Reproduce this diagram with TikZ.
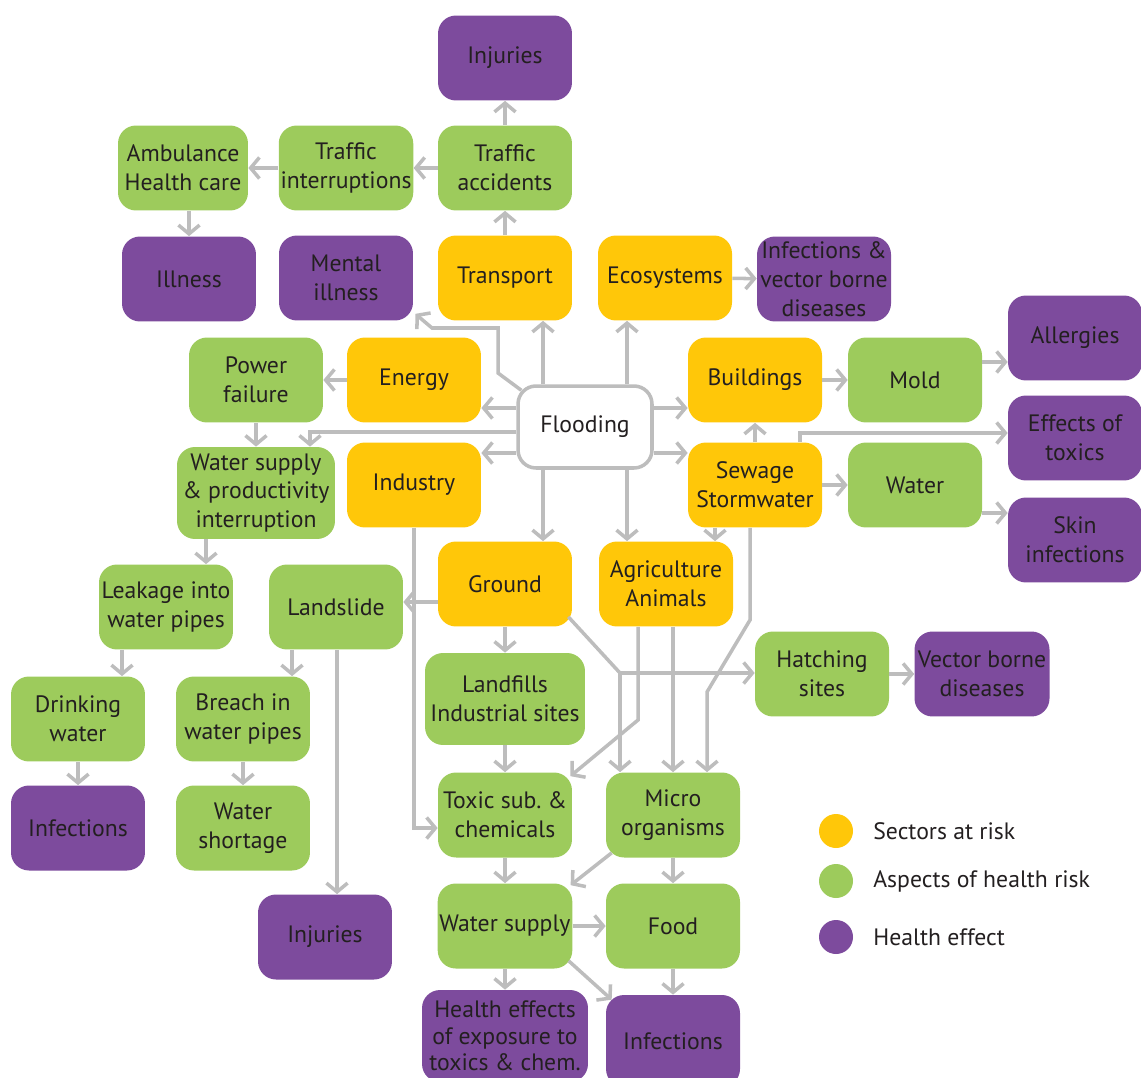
\documentclass[tikz,border=0pt]{standalone}
\usepackage{fontspec}
\setmainfont{PT Sans}
\usetikzlibrary{arrows.meta}
\definecolor{sectoryellow}{HTML}{FFC709}
\definecolor{aspectgreen}{HTML}{9DCB5C}
\definecolor{effectpurple}{HTML}{7D4B9D}
\definecolor{linkgray}{HTML}{BDBDBD}
\definecolor{txt}{HTML}{231F20}
\tikzset{x=0.02cm, y=-0.02cm,
box/.style={ % common look of all boxes
rectangle, rounded corners=0.36cm,
minimum width=2.68cm, minimum height=1.7cm,
inner sep=1pt, align=center, text=txt,
font=\fontsize{13.5pt}{16.4pt}\selectfont},
sector/.style={box, fill=sectoryellow},
aspect/.style={box, fill=aspectgreen},
effect/.style={box, fill=effectpurple},
source/.style={box, fill=white, draw=linkgray, line width=2pt,
minimum width=2.68cm, minimum height=1.64cm},
dot/.style={circle, minimum size=0.68cm, inner sep=0pt},
legendtext/.style={anchor=west, text=txt, inner sep=0pt,
font=\fontsize{13.5pt}{16.4pt}\selectfont},
link/.style={ % gray connectors
draw=linkgray, line width=2pt,
-{Straight Barb[length=5pt,width=12pt]}}}

\begin{document}
\begin{tikzpicture}
\useasboundingbox (0,0) rectangle (1141,1077);
\clip (0,0) rectangle (1141,1077);
% top part
\node[effect] (inj1) at (505,58) {Injuries};
\node[aspect, minimum width=2.6cm] (amb) at (183,168) {Ambulance\\Health care};
\node[aspect] (tint) at (346,168) {Traffic\\interruptions};
\node[aspect] (tacc) at (505,168) {Traffic\\accidents};
\node[effect] (ill) at (189,279) {Illness};
\node[effect] (ment) at (346,278) {Mental\\illness};
\node[sector] (trans) at (505,278) {Transport};
\node[sector] (eco) at (665,278) {Ecosystems};
\node[effect] (infv) at (824,279) {Infections \&\\vector borne\\diseases};
% middle part
\node[aspect] (power) at (256,380) {Power\\failure};
\node[sector] (energy) at (414,380) {Energy};
\node[source] (flood) at (585,427) {Flooding};
\node[sector] (build) at (755,380) {Buildings};
\node[aspect] (mold) at (915,380) {Mold};
\node[effect] (allerg) at (1075,338) {Allergies};
\node[effect] (effx) at (1075,438) {Effects of\\toxics};
\node[aspect, minimum width=3.16cm, minimum height=1.84cm] (wsup) at (256,493) {Water supply\\\& productivity\\interruption};
\node[sector] (industry) at (414,485) {Industry};
\node[sector] (sew) at (755,485) {Sewage\\Stormwater};
\node[aspect] (water) at (915,485) {Water};
\node[effect] (skin) at (1075,540) {Skin\\infections};
% lower part
\node[aspect] (leak) at (166,607) {Leakage into\\water pipes};
\node[aspect] (lands) at (336,607) {Landslide};
\node[sector] (ground) at (505,584) {Ground};
\node[sector] (agri) at (666,584) {Agriculture\\Animals};
\node[aspect] (hatch) at (822,674) {Hatching\\sites};
\node[effect, minimum width=2.7cm] (vect) at (982,674) {Vector borne\\diseases};
\node[aspect, minimum width=3.2cm, minimum height=1.84cm] (landf) at (505,699) {Landfills\\Industrial sites};
\node[aspect] (drink) at (78,719) {Drinking\\water};
\node[aspect] (breach) at (243,719) {Breach in\\water pipes};
\node[aspect] (toxic) at (505,815) {Toxic sub.\ \&\\chemicals};
\node[aspect] (micro) at (673,815) {Micro\\organisms};
\node[effect] (inf2) at (78,828) {Infections};
\node[aspect] (short) at (243,828) {Water\\shortage};
\node[effect] (inj2) at (325,937) {Injuries};
\node[aspect] (wsupply) at (505,926) {Water supply};
\node[aspect] (food) at (673,926) {Food};
\node[effect, minimum width=3.32cm, minimum height=1.84cm, font=\fontsize{13.5pt}{15pt}\selectfont] (health) at (505,1036) {Health effects\\of exposure to\\toxics \& chem.};
\node[effect, minimum height=1.84cm] (inf3) at (673,1041) {Infections};
% legend
\node[dot, fill=sectoryellow] (lsec) at (836,831) {};
\node[dot, fill=aspectgreen] (lasp) at (836,881) {};
\node[dot, fill=effectpurple] (leff) at (836,937) {};
\node[legendtext] at (873,831) {Sectors at risk};
\node[legendtext] at (873,881) {Aspects of health risk};
\node[legendtext] at (873,937) {Health effect};
% connectors
\draw[link] (tacc) -- (inj1);
\draw[link] (trans) -- (tacc);
\draw[link] (tacc) -- (tint);
\draw[link] (tint) -- (amb);
\draw[link] (amb.south -| ill) -- (ill);
\draw[link] ([shift={(5,6)}]flood.north west) -- (498,373) -- (498,328) -- (432,328) -- ([shift={(2,-7)}]ment.south east);
\draw[link] (flood.north -| 543,0) -- (trans.south -| 543,0);
\draw[link] (flood.north -| 627,0) -- (eco.south -| 627,0);
\draw[link] (eco) -- (infv);
\draw[link] (flood.west |- 0,408) -- (energy.east |- 0,408);
\draw[link] (flood.west |- 0,432) -- (310,432) -- (wsup.north -| 310,0);
\draw[link] (flood.west |- 0,453) -- (industry.east |- 0,453);
\draw[link] (energy) -- (power);
\draw[link] (power) -- (wsup);
\draw[link] (wsup.south -| 206,0) -- (leak.north -| 206,0);
\draw[link] (flood.east |- 0,408) -- (build.west |- 0,408);
\draw[link] (flood.east |- 0,453) -- (sew.west |- 0,453);
\draw[link] (sew) -- (build);
\draw[link] (build) -- (mold);
\draw[link] (mold.east |- 0,362) -- (allerg.west |- 0,362);
\draw[link] (sew.north -| 800,0) -- (800,433) -- (effx.west |- 0,433);
\draw[link] (sew) -- (water);
\draw[link] (water.east |- 0,513) -- (skin.west |- 0,513);
\draw[link] (sew.south -| 715,0) -- (agri.north -| 715,0);
\draw[link] (sew.south -| 750,0) -- (750,620) -- (707,692) -- (micro.north -| 707,0);
\draw[link] (flood.south -| 543,0) -- (ground.north -| 543,0);
\draw[link] (flood.south -| 627,0) -- (agri.north -| 627,0);
\draw[link] (ground.west |- 0,602) -- (lands.east |- 0,602);
\draw[link] (ground) -- (landf);
\coordinate (fork) at (620,673);
\draw[link] ([shift={(-4,-10)}]ground.south east) -- (fork) -- (hatch.west |- fork);
\draw[link] (fork) -- (micro.north -| fork);
\draw[link] (agri.south -| 638,0) -- (638,720) -- ([shift={(-2,4)}]toxic.north east);
\draw[link] (agri.south -| micro) -- (micro);
\draw[link] (industry) -- (industry |- 0,828) -- (toxic.west |- 0,828);
\draw[link] (landf) -- (toxic);
\draw[link] (lands.south -| 292,0) -- (breach.north -| 292,0);
\draw[link] (lands.south -| 337,0) -- (inj2.north -| 337,0);
\draw[link] (leak.south -| 122,0) -- (drink.north -| 122,0);
\draw[link] (drink) -- (inf2);
\draw[link] (breach) -- (short);
\draw[link] (toxic) -- (wsupply);
\draw[link] ([shift={(6,-5)}]micro.south west) -- ([shift={(-2,2)}]wsupply.north east);
\draw[link] (micro) -- (food);
\draw[link] (wsupply) -- (food);
\draw[link] (wsupply) -- (health);
\draw[link] ([shift={(-4,-8)}]wsupply.south east) -- ([shift={(6,5)}]inf3.north west);
\draw[link] (food) -- (inf3);
\draw[link] (hatch) -- (vect);
\end{tikzpicture}
\end{document}
